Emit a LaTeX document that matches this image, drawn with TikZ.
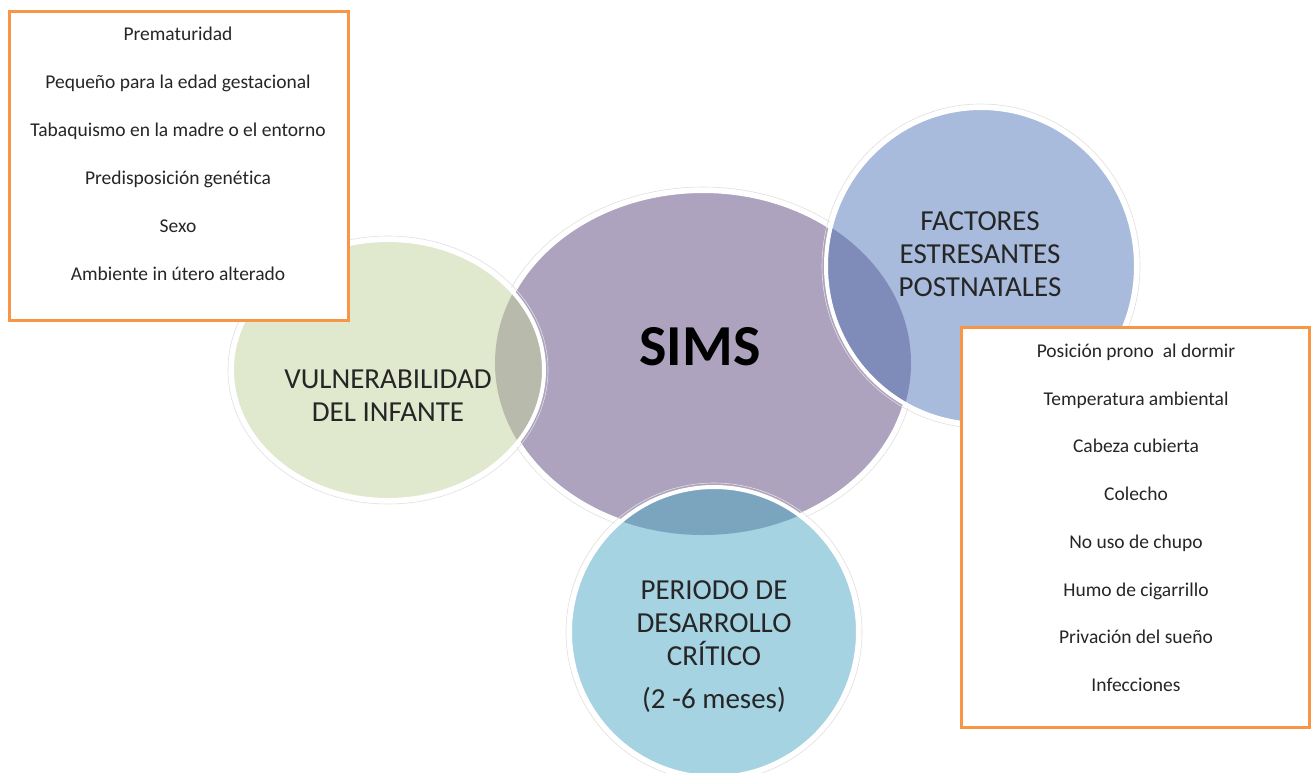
\documentclass[tikz,border=0pt]{standalone}
\usepackage{fontspec}
\setmainfont{Carlito}[Ligatures=NoCommon]
\usetikzlibrary{positioning,shadows}
\definecolor{vgreen}{HTML}{E0E8CD}
\definecolor{vpurple}{HTML}{ADA3BE}
\definecolor{vblue}{HTML}{A8BBDC}
\definecolor{vteal}{HTML}{A5D3E2}
\definecolor{mixgreen}{HTML}{B8BAAB}
\definecolor{mixblue}{HTML}{7F8BB9}
\definecolor{mixteal}{HTML}{7BA5BF}
\definecolor{vorange}{HTML}{F79646}
\definecolor{inkgray}{HTML}{262626}
\tikzset{
	factbox/.style  = {draw=vorange, line width=3pt, fill=white,
		drop shadow={shadow xshift=2pt, shadow yshift=-2pt, opacity=0.25}},
	factor/.style   = {font=\fontsize{19.5}{22}\selectfont, text=inkgray,
		text height=13pt, text depth=4pt},
	title/.style    = {align=center, font=\fontsize{29}{33}\selectfont, text=black!85},
	rim/.style      = {draw=white, line width=4pt},
	halo/.style     = {draw=black!12, line width=0.6pt},
	% shapes of the four sets
	shPur/.style = {insert path={(703,363) ellipse [x radius=208pt+#1pt, y radius=172pt+#1pt]}},
	shGrn/.style = {insert path={(388,370) ellipse [x radius=156pt+#1pt, y radius=130pt+#1pt]}},
	shBlu/.style = {insert path={(981,266) ellipse [x radius=155pt+#1pt, y radius=158pt+#1pt]}},
	shTea/.style = {insert path={(714,632) ellipse [x radius=144pt+#1pt, y radius=145pt+#1pt]}},
	shPur/.default = 0, shGrn/.default = 0, shBlu/.default = 0, shTea/.default = 0
}

\begin{document}
\begin{tikzpicture}[x=1pt, y=-1pt]
	\clip (0,0) rectangle (1311,772);
	\fill[white] (0,0) rectangle (1311,772);

	% centre set
	\path[halo, shPur=4];
	\path[fill=vpurple, shPur];
	\path[rim, shPur];

	% the three others, each with its overlap
	\path[halo, shGrn=4];
	\path[fill=vgreen, shGrn];
	\begin{scope}
		\path[clip, shPur];
		\path[fill=mixgreen, shGrn];
	\end{scope}
	\path[rim, shGrn];

	\path[halo, shBlu=4];
	\path[fill=vblue, shBlu];
	\begin{scope}
		\path[clip, shPur];
		\path[fill=mixblue, shBlu];
	\end{scope}
	\path[rim, shBlu];

	\path[halo, shTea=4];
	\path[fill=vteal, shTea];
	\begin{scope}
		\path[clip, shPur];
		\path[fill=mixteal, shTea];
	\end{scope}
	\path[rim, shTea];

	% labels of the sets
	\node[font=\bfseries\fontsize{58}{60}\selectfont] (sims) at (700,347) {SIMS};
	\node[title] (infant) at (388,396) {VULNERABILIDAD\\DEL INFANTE};
	\node[title] (stress) at (980,254) {FACTORES\\ESTRESANTES\\POSTNATALES};
	\node[title] (period) at (714,647) {PERIODO DE\\DESARROLLO\\CRÍTICO\\[10pt](2 -6 meses)};

	% factor boxes
	\node[factbox, minimum width=339pt, minimum height=309pt] (riskbox) at (178.5,165.5) {};
	\foreach \txt [count=\i from 0] in {Prematuridad, Pequeño para la edad gestacional,
		Tabaquismo en la madre o el entorno, Predisposición genética, Sexo,
		Ambiente in útero alterado}
		\node[factor] (risk\i) at (178,{36+48*\i}) {\txt};

	\node[factbox, minimum width=348pt, minimum height=400pt] (postbox) at (1135,527) {};
	\foreach \txt [count=\i from 0] in {Posición prono\ \ al dormir, Temperatura ambiental,
		Cabeza cubierta, Colecho, No uso de chupo, Humo de cigarrillo,
		Privación del sueño, Infecciones}
		\node[factor] (post\i) at (1136,{353+47.7*\i}) {\txt};
\end{tikzpicture}
\end{document}
